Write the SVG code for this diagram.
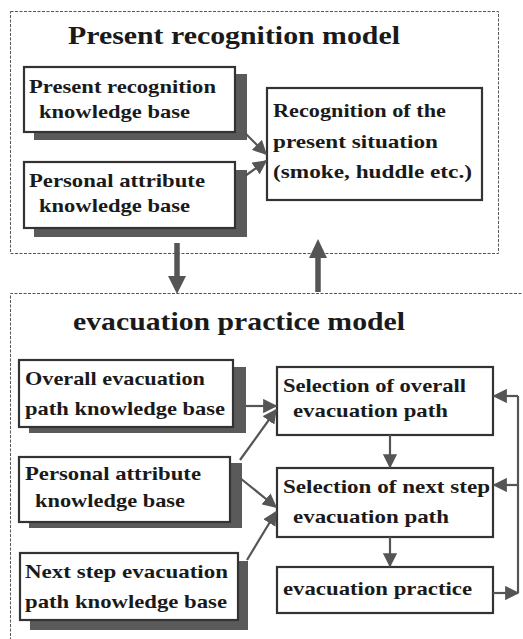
<svg xmlns="http://www.w3.org/2000/svg" width="523" height="639" viewBox="0 0 523 639">
<style>
.frame{fill:none;stroke:#555;stroke-width:1;stroke-dasharray:3 1.5}
.box{fill:#fff;stroke:#333;stroke-width:2.2}
.shadow{fill:#5a5a5a}
.t{font-family:"Liberation Serif","Times New Roman",serif;font-weight:bold;fill:#1a1a1a;font-size:19px}
.title{font-family:"Liberation Serif","Times New Roman",serif;font-weight:bold;fill:#1a1a1a;font-size:26px}
.c{fill:none;stroke:#555;stroke-width:2.2}
.big{fill:none;stroke:#555;stroke-width:5.5}
</style>
<defs>
<marker id="ah" viewBox="0 0 10 10" refX="9" refY="5" markerWidth="6.5" markerHeight="6.5" markerUnits="strokeWidth" orient="auto">
<path d="M0,0 L10,5 L0,10 z" fill="#555"/>
</marker>
</defs>
<rect width="523" height="639" fill="#fff"/>

<g id="present-model">
<rect class="frame" x="10.5" y="11.5" width="488" height="242"/>
<text class="title" x="68" y="44" textLength="332" lengthAdjust="spacingAndGlyphs">Present recognition model</text>
</g>
<g id="evac-model">
<path class="frame" d="M10.5,645 L10.5,293.5 L530,293.5"/>
<text class="title" x="73" y="330" textLength="332" lengthAdjust="spacingAndGlyphs">evacuation practice model</text>
</g>

<g id="prkb">
<rect class="shadow" x="34" y="74" width="213" height="66"/>
<rect class="box" x="24" y="67" width="211" height="65"/>
<text class="t" x="29" y="93" textLength="187" lengthAdjust="spacingAndGlyphs">Present recognition</text>
<text class="t" x="39" y="118" textLength="151" lengthAdjust="spacingAndGlyphs">knowledge base</text>
</g>
<g id="pakb1">
<rect class="shadow" x="34" y="170" width="213" height="67"/>
<rect class="box" x="24" y="162" width="211" height="66"/>
<text class="t" x="29" y="187" textLength="176" lengthAdjust="spacingAndGlyphs">Personal attribute</text>
<text class="t" x="39" y="212" textLength="151" lengthAdjust="spacingAndGlyphs">knowledge base</text>
</g>
<g id="recog">
<rect class="box" x="267" y="88" width="215" height="112"/>
<text class="t" x="273" y="117" textLength="173" lengthAdjust="spacingAndGlyphs">Recognition of the</text>
<text class="t" x="273" y="148" textLength="165" lengthAdjust="spacingAndGlyphs">present situation</text>
<text class="t" x="273" y="178" textLength="199" lengthAdjust="spacingAndGlyphs">(smoke, huddle etc.)</text>
</g>

<g id="oekb">
<rect class="shadow" x="29" y="367" width="217" height="66"/>
<rect class="box" x="19" y="360" width="214" height="67"/>
<text class="t" x="25" y="385" textLength="180" lengthAdjust="spacingAndGlyphs">Overall evacuation</text>
<text class="t" x="25" y="415" textLength="200" lengthAdjust="spacingAndGlyphs">path knowledge base</text>
</g>
<g id="pakb2">
<rect class="shadow" x="29" y="463" width="213" height="65"/>
<rect class="box" x="19" y="457" width="211" height="65"/>
<text class="t" x="25" y="480" textLength="176" lengthAdjust="spacingAndGlyphs">Personal attribute</text>
<text class="t" x="35" y="507" textLength="150" lengthAdjust="spacingAndGlyphs">knowledge base</text>
</g>
<g id="nskb">
<rect class="shadow" x="30" y="561" width="218" height="69"/>
<rect class="box" x="20" y="553" width="218" height="67"/>
<text class="t" x="25" y="578" textLength="203" lengthAdjust="spacingAndGlyphs">Next step evacuation</text>
<text class="t" x="25" y="608" textLength="202" lengthAdjust="spacingAndGlyphs">path knowledge base</text>
</g>
<g id="sel-overall">
<rect class="box" x="277" y="367" width="216" height="68"/>
<text class="t" x="283" y="392" textLength="183" lengthAdjust="spacingAndGlyphs">Selection of overall</text>
<text class="t" x="293" y="417" textLength="155" lengthAdjust="spacingAndGlyphs">evacuation path</text>
</g>
<g id="sel-next">
<rect class="box" x="277" y="468" width="216" height="69"/>
<text class="t" x="283" y="493" textLength="207" lengthAdjust="spacingAndGlyphs">Selection of next step</text>
<text class="t" x="293" y="523" textLength="156" lengthAdjust="spacingAndGlyphs">evacuation path</text>
</g>
<g id="practice">
<rect class="box" x="277" y="567" width="216" height="46"/>
<text class="t" x="283" y="595" textLength="189" lengthAdjust="spacingAndGlyphs">evacuation practice</text>
</g>

<g id="connectors">
<line class="c" x1="245" y1="133" x2="266" y2="154" marker-end="url(#ah)"/>
<line class="c" x1="245" y1="176" x2="266" y2="161" marker-end="url(#ah)"/>
<line class="big" x1="177" y1="243" x2="177" y2="278"/>
<path d="M168,276 L186,276 L177,294 z" fill="#555"/>
<line class="big" x1="318" y1="292" x2="318" y2="256"/>
<path d="M309,258 L327,258 L318,239 z" fill="#555"/>
<line class="c" x1="246" y1="406" x2="276" y2="406" marker-end="url(#ah)"/>
<line class="c" x1="240" y1="460" x2="276" y2="410" marker-end="url(#ah)"/>
<line class="c" x1="240" y1="478" x2="276" y2="507" marker-end="url(#ah)"/>
<line class="c" x1="247" y1="560" x2="276" y2="512" marker-end="url(#ah)"/>
<line class="c" x1="390" y1="435" x2="390" y2="467" marker-end="url(#ah)"/>
<line class="c" x1="390" y1="537" x2="390" y2="566" marker-end="url(#ah)"/>
<line class="c" x1="493" y1="593" x2="518" y2="593" marker-end="url(#ah)"/>
<line class="c" x1="518" y1="593" x2="518" y2="396"/>
<line class="c" x1="518" y1="396" x2="494" y2="396" marker-end="url(#ah)"/>
<line class="c" x1="518" y1="485" x2="494" y2="485" marker-end="url(#ah)"/>
</g>
</svg>
